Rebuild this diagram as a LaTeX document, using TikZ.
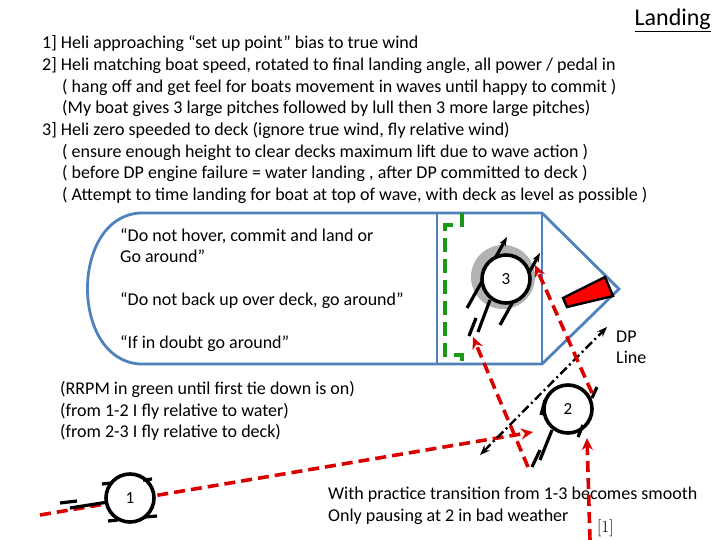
\documentclass[tikz,border=0pt]{standalone}
\usepackage{fontspec}
\setmainfont{Carlito}
\usetikzlibrary{arrows.meta}
\definecolor{boatblue}{HTML}{4F81BD}
\begin{document}
\begin{tikzpicture}[x=1pt,y=-1pt,
  txt/.style={anchor=base west,inner sep=0pt,font=\fontsize{18}{20}\selectfont},
  boat/.style={line width=2.8pt,draw=boatblue},
  heli/.style={circle,draw=black,line width=3.6pt,minimum size=48pt,inner sep=0pt,fill=white,font=\fontsize{17}{19}\selectfont},
  skid/.style={line width=3.2pt,black},
  red path/.style={red!85!black,line width=3.6pt,dash pattern=on 11pt off 6pt,-{Stealth[length=12pt,width=11pt]}},
  dp/.style={black,line width=2.4pt,dash pattern=on 9pt off 3.5pt on 2pt off 3.5pt,{Stealth[length=10pt]}-{Stealth[length=10pt]}}]
\useasboundingbox (0,0) rectangle (720,540);
\node[anchor=base east,inner sep=0pt,font=\fontsize{24}{26}\selectfont] (title) at (711,26) {\underline{Landing}};
\node[txt] (l1) at (42,49) {1] Heli approaching “set up point” bias to true wind};
\node[txt] (l2) at (42,71) {2] Heli matching boat speed, rotated to final landing angle, all power / pedal in};
\node[txt] (l3) at (62,93) {( hang off and get feel for boats movement in waves until happy to commit )};
\node[txt] (l4) at (62,114) {(My boat gives 3 large pitches followed by lull then 3 more large pitches)};
\node[txt] (l5) at (42,136) {3] Heli zero speeded to deck (ignore true wind, fly relative wind)};
\node[txt] (l6) at (62,158) {( ensure enough height to clear decks maximum lift due to wave action )};
\node[txt] (l7) at (62,179) {( before DP engine failure = water landing , after DP committed to deck )};
\node[txt] (l8) at (62,201) {( Attempt to time landing for boat at top of wave, with deck as level as possible )};
% boat
\draw[boat] (140,213) -- (542,213) -- (619,289) -- (542,364) -- (140,364) .. controls (70,360) and (70,217) .. (140,213);
\draw[boat] (437,213) -- (437,364);
\draw[boat] (542,213) -- (542,364);
\draw[green!55!black!90,line width=3.4pt,dash pattern=on 14pt off 7pt] (462,213) -- (462,225) -- (445,225) -- (445,355) -- (462,355) -- (462,366);
\fill[red,draw=black,line width=2.4pt] (563,298) -- (605,277) -- (613,296) -- (567,307) -- cycle;
\node[txt] (b1) at (120,241) {“Do not hover, commit and land or};
\node[txt] (b2) at (120,262) {Go around”};
\node[txt] (b3) at (120,305) {“Do not back up over deck, go around”};
\node[txt] (b4) at (120,348) {“If in doubt go around”};
\node[txt] (r1) at (60,394) {(RRPM in green until first tie down is on)};
\node[txt] (r2) at (60,416) {(from 1-2 I fly relative to water)};
\node[txt] (r3) at (60,437) {(from 2-3 I fly relative to deck)};
\node[txt] (w1) at (328,499) {With practice transition from 1-3 becomes smooth};
\node[txt] (w2) at (328,521) {Only pausing at 2 in bad weather};
\node[txt,font=\fontfamily{lmr}\fontsize{17}{19}\selectfont] (ref) at (597,532) {[1]};
\node[txt] (dp1) at (616,342) {DP};
\node[txt] (dp2) at (616,363) {Line};
% red path behind heli 1
\coordinate (ra) at (40,515);
\coordinate (ra2) at (533,432);
\draw[red path] (ra) -- (ra2);
% DP line
\coordinate (dpa) at (480,455);
\coordinate (dpb) at (607,327);
\draw[dp] (dpa) -- (dpb);
% heli 3
\fill[gray!60] (503,277) circle (32pt);
\draw[skid,-{Stealth[length=9pt]}] (467,308) -- (507,237);
\draw[skid,-{Stealth[length=9pt]}] (500,325) -- (540,253);
\node[heli] (h3) at (506,279) {3};
\draw[skid] (490,300) -- (478,332);
\draw[skid] (476,318) -- (469,336);
% heli 2
\node[heli] (h2) at (568,409) {2};
\draw[skid] (541,415) -- (545,400);
\draw[skid] (592,398) -- (597,387);
\draw[skid] (552,430) -- (540,460);
\draw[skid] (540,450) -- (532,467);
\draw[skid] (583,425) -- (578,437);
% heli 1
\draw[skid] (108,502) -- (70,508);
\draw[skid] (60,503) -- (77,501);
\node[heli] (h1) at (130,498) {1};
\draw[skid] (102,484) -- (112,483);
\draw[skid] (143,480) -- (152,479);
\draw[skid] (108,521) -- (118,520);
\draw[skid] (145,517) -- (157,516);
% red paths
\coordinate (rb) at (528,467);
\coordinate (rb2) at (473,337);
\draw[red path] (rb) -- (rb2);
\coordinate (rc) at (592,393);
\coordinate (rc2) at (535,265);
\draw[red path] (rc) -- (rc2);
\coordinate (rd) at (590,540);
\coordinate (rd2) at (587,438);
\draw[red path] (rd) -- (rd2);
\end{tikzpicture}
\end{document}
